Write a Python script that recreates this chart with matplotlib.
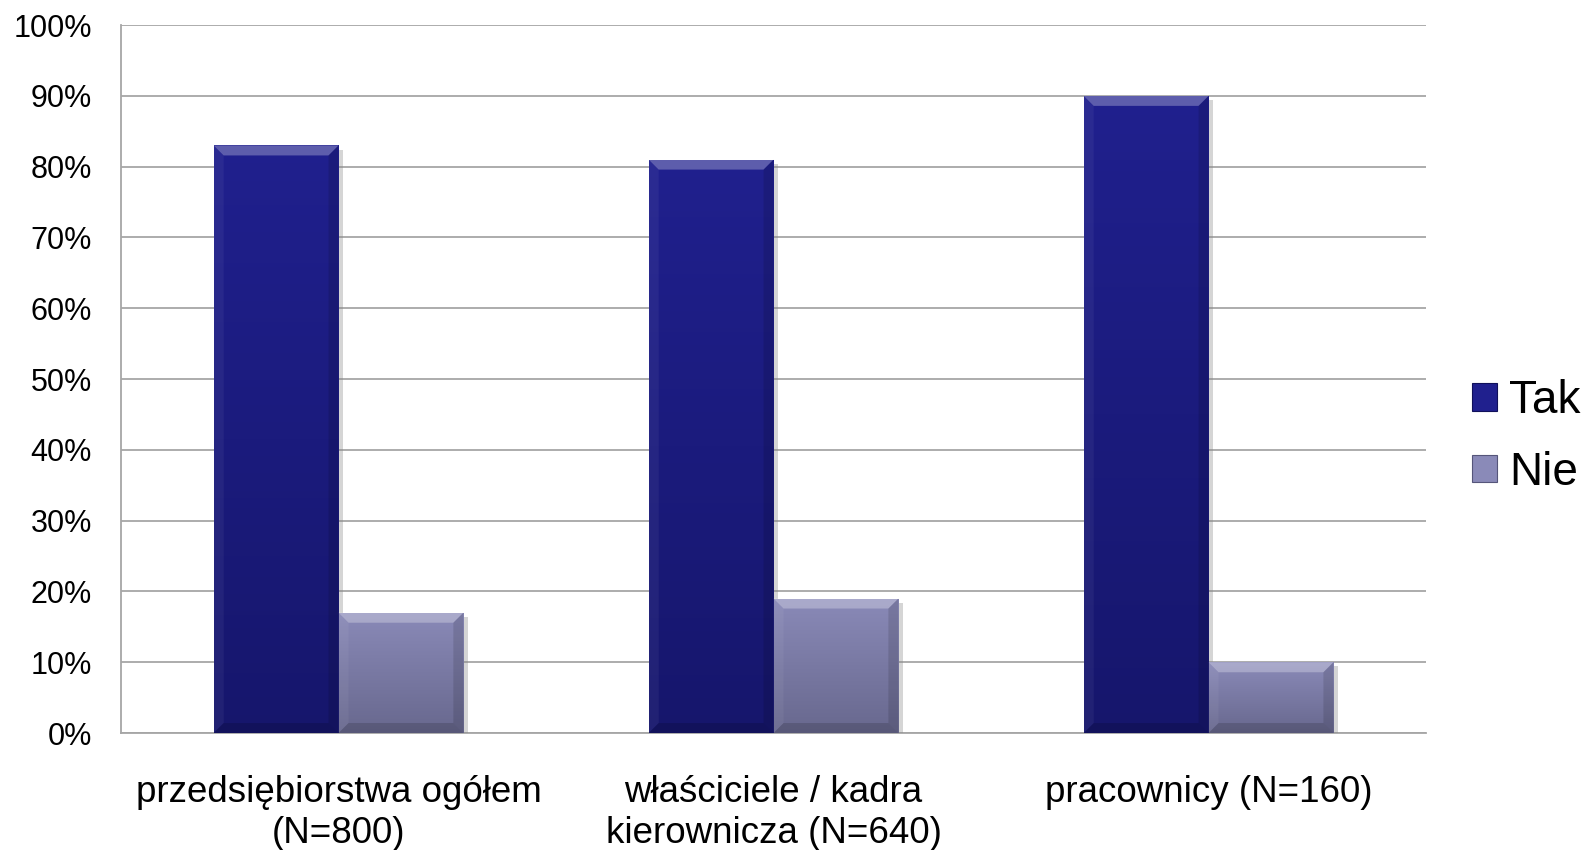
import numpy as np
import matplotlib
matplotlib.use('Agg')
import matplotlib.pyplot as plt
from matplotlib.patches import Patch, Polygon
import matplotlib.patheffects as pe

plt.rcParams['font.family'] = ['Liberation Sans', 'DejaVu Sans']

# Survey answers per respondent group (percent)
categories = ['przedsiębiorstwa ogółem\n(N=800)',
              'właściciele / kadra\nkierownicza (N=640)',
              'pracownicy (N=160)']
tak = [83, 81, 90]
nie = [17, 19, 10]
series_names = ['Tak', 'Nie']
yticks = [0, 10, 20, 30, 40, 50, 60, 70, 80, 90, 100]

# face colours: (top, bottom) of the vertical gradient
tak_face = ('#20208e', '#16166c')
nie_face = ('#8a8ab8', '#68688e')

fig = plt.figure(figsize=(15.9, 8.5), dpi=100)
ax = fig.add_axes([0.0761, 0.1376, 0.8208, 0.8329])

x = np.arange(len(categories))
w = 0.287
ax.set_xlim(-0.5, len(categories) - 0.5)
ax.set_ylim(0, 100)

shadow = [pe.SimplePatchShadow(offset=(3, -3), shadow_rgbFace='#888888', alpha=0.35),
          pe.Normal()]
bars_tak = ax.bar(x - w / 2, tak, w, color=tak_face[0], zorder=3, path_effects=shadow)
bars_nie = ax.bar(x + w / 2, nie, w, color=nie_face[0], zorder=3, path_effects=shadow)

# bevel size in data units (about 10 px)
fig.canvas.draw()
px = ax.transData.inverted().transform([[0, 0], [10, 10]])
bx = px[1, 0] - px[0, 0]
by = px[1, 1] - px[0, 1]

grad = np.linspace(0, 1, 256).reshape(-1, 1)


def shade(bars, face):
    top = np.array(matplotlib.colors.to_rgb(face[0]))
    bot = np.array(matplotlib.colors.to_rgb(face[1]))
    img = top[None, None, :] * (1 - grad[..., None]) + bot[None, None, :] * grad[..., None]
    for b in bars:
        x0, h = b.get_x(), b.get_height()
        x1 = x0 + b.get_width()
        im = ax.imshow(img, extent=(x0, x1, 0, h), aspect='auto', origin='upper',
                       zorder=3.5, interpolation='bilinear')
        im.set_clip_path(b)
        # bevelled edges
        ax.add_patch(Polygon([(x0, h), (x1, h), (x1 - bx, h - by), (x0 + bx, h - by)],
                             closed=True, color='white', alpha=0.28, lw=0, zorder=4))
        ax.add_patch(Polygon([(x0, 0), (x0, h), (x0 + bx, h - by), (x0 + bx, by)],
                             closed=True, color='white', alpha=0.05, lw=0, zorder=4))
        ax.add_patch(Polygon([(x1, 0), (x1, h), (x1 - bx, h - by), (x1 - bx, by)],
                             closed=True, color='black', alpha=0.12, lw=0, zorder=4))
        ax.add_patch(Polygon([(x0, 0), (x1, 0), (x1 - bx, by), (x0 + bx, by)],
                             closed=True, color='black', alpha=0.15, lw=0, zorder=4))


shade(bars_tak, tak_face)
shade(bars_nie, nie_face)
ax.set_xlim(-0.5, len(categories) - 0.5)
ax.set_ylim(0, 100)

# Axes styling
ax.set_yticks(yticks)
ax.set_yticklabels([f'{v}%' for v in yticks])
ax.set_xticks(x)
ax.set_xticklabels(categories, linespacing=1.25)
ax.tick_params(axis='y', length=0, pad=21, labelsize=22)
ax.tick_params(axis='x', length=0, pad=30, labelsize=26.5)
ax.yaxis.grid(True, color='#a6a6a6', linewidth=1.3, zorder=0)
ax.set_axisbelow(True)
for s in ['top', 'right']:
    ax.spines[s].set_visible(False)
for s in ['left', 'bottom']:
    ax.spines[s].set_color('#a6a6a6')
    ax.spines[s].set_linewidth(1.3)

# Legend
handles = [Patch(facecolor=tak_face[0], edgecolor='#10105a', lw=0.8),
           Patch(facecolor=nie_face[0], edgecolor='#55557a', lw=0.8)]
lgd = fig.legend(handles, series_names, loc='center left',
                 bbox_to_anchor=(0.9115, 0.486), fontsize=33, frameon=False,
                 handlelength=0.55, handleheight=0.55, handletextpad=0.25,
                 labelspacing=0.6, borderpad=0)

fig.savefig('out.png', dpi=100)
